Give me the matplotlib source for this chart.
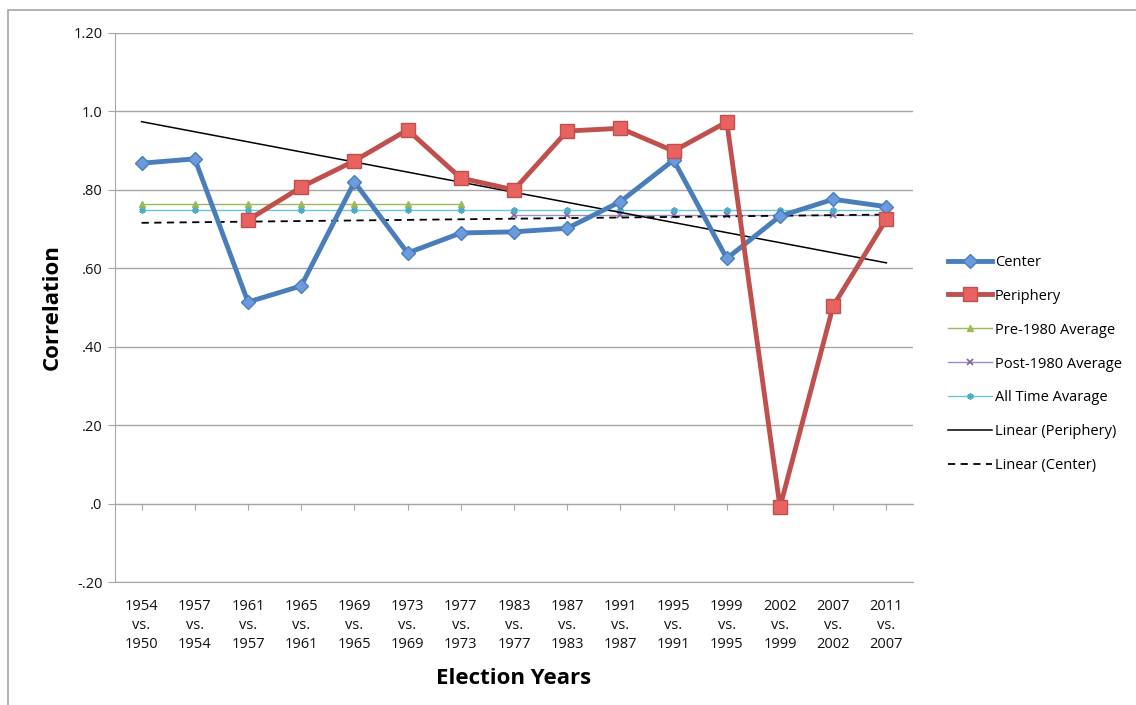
import numpy as np
import matplotlib
matplotlib.use("Agg")
import matplotlib.pyplot as plt
from matplotlib.patches import Rectangle

plt.rcParams['font.family'] = ['Open Sans', 'DejaVu Sans']

categories = ["1954\nvs.\n1950", "1957\nvs.\n1954", "1961\nvs.\n1957", "1965\nvs.\n1961",
              "1969\nvs.\n1965", "1973\nvs.\n1969", "1977\nvs.\n1973", "1983\nvs.\n1977",
              "1987\nvs.\n1983", "1991\nvs.\n1987", "1995\nvs.\n1991", "1999\nvs.\n1995",
              "2002\nvs.\n1999", "2007\nvs.\n2002", "2011\nvs.\n2007"]
center = [0.868, 0.879, 0.514, 0.555, 0.820, 0.639, 0.690, 0.693, 0.702, 0.770,
          0.876, 0.625, 0.733, 0.776, 0.757]
periphery = [np.nan, np.nan, 0.723, 0.807, 0.874, 0.953, 0.830, 0.800, 0.950, 0.957,
             0.899, 0.973, -0.009, 0.504, 0.725]
pre1980_avg = [0.764] * 7 + [np.nan] * 8
post1980_avg = [np.nan] * 7 + [0.736] * 8
alltime_avg = [0.748] * 15
y_ticks = [-0.2, 0.0, 0.2, 0.4, 0.6, 0.8, 1.0, 1.2]
y_ticklabels = ["-.20", ".0", ".20", ".40", ".60", ".80", "1.0", "1.20"]

x = np.arange(1, len(categories) + 1)

fig = plt.figure(figsize=(11.36, 7.05), dpi=100)
W, H = 1136, 705
ax = fig.add_axes([115 / W, 1 - 582 / H, (913 - 115) / W, (582 - 33) / H])

# outer chart border (left and top visible)
fig.patches.append(Rectangle((8 / W, -0.05), 1.2, 1 - 10 / H + 0.05, transform=fig.transFigure,
                             fill=False, edgecolor='#A6A6A6', linewidth=1.2, zorder=0))

grid_c = '#A6A6A6'
ax.set_xlim(0.5, len(categories) + 0.5)
ax.set_ylim(-0.2, 1.2)
ax.set_yticks(y_ticks)
ax.set_yticklabels(y_ticklabels)
ax.yaxis.grid(True, color=grid_c, linewidth=1.0)
ax.set_axisbelow(True)
for s in ['top', 'right']:
    ax.spines[s].set_visible(False)
ax.spines['left'].set_color(grid_c)
ax.spines['bottom'].set_color(grid_c)
ax.tick_params(axis='y', length=5, color=grid_c, labelsize=10.5, pad=4, labelcolor='#111111')
ax.set_xticks(x)
ax.set_xticklabels(categories, fontsize=10.5, color='#111111', linespacing=1.4)
ax.tick_params(axis='x', length=0, pad=12)

# category axis crossing at zero
sec = ax.secondary_xaxis(0.2 / 1.4)
sec.set_xticks(x)
sec.set_xticklabels([])
sec.tick_params(axis='x', length=4, color=grid_c, direction='out')
sec.spines['bottom'].set_color(grid_c)

# trend lines
pm = ~np.isnan(np.array(periphery))
pp = np.polyfit(x[pm], np.array(periphery)[pm], 1)
pc = np.polyfit(x, np.array(center), 1)

ax.plot(x, pre1980_avg, color='#9BBB59', linewidth=1.0, marker='^', markersize=4.5,
        markerfacecolor='#9BBB59', markeredgecolor='#9BBB59', label='Pre-1980 Average', zorder=3)
ax.plot(x, post1980_avg, color='#A08CC0', linewidth=1.0, marker='x', markersize=4.5,
        markeredgecolor='#8064A2', markeredgewidth=1.2, label='Post-1980 Average', zorder=3)
ax.plot(x, alltime_avg, color='#6CC4DC', linewidth=1.0, marker=(6, 2, 0), markersize=4.5,
        markeredgecolor='#4BACC6', markeredgewidth=1.2, label='All Time Avarage', zorder=3)
ax.plot(x, np.polyval(pp, x), color='black', linewidth=1.1, label='Linear (Periphery)', zorder=4)
ax.plot(x, np.polyval(pc, x), color='black', linewidth=1.3, linestyle=(0, (4, 3)),
        label='Linear (Center)', zorder=4)

ax.plot(x, center, color='#4A7EBB', linewidth=3.5, marker='D', markersize=7.5,
        markerfacecolor='#6B9BDC', markeredgecolor='#4A7EBB', markeredgewidth=1,
        label='Center', zorder=5)
ax.plot(x, periphery, color='#C0504D', linewidth=3.5, marker='s', markersize=9.5,
        markerfacecolor='#E8625F', markeredgecolor='#C0504D', markeredgewidth=1,
        label='Periphery', zorder=6)

ax.set_ylabel('Correlation', fontsize=16, fontweight='bold', labelpad=8)
ax.set_xlabel('Election Years', fontsize=16, fontweight='bold', labelpad=11)

handles, labels = ax.get_legend_handles_labels()
order = ['Center', 'Periphery', 'Pre-1980 Average', 'Post-1980 Average', 'All Time Avarage',
         'Linear (Periphery)', 'Linear (Center)']
hmap = dict(zip(labels, handles))
fig.legend([hmap[o] for o in order], order, loc='center left',
           bbox_to_anchor=(935 / W, 1 - 364 / H), frameon=False, fontsize=10.5,
           handlelength=3.0, labelspacing=1.3, handletextpad=0.2, markerscale=1.0)

fig.savefig('out.png', dpi=100)
